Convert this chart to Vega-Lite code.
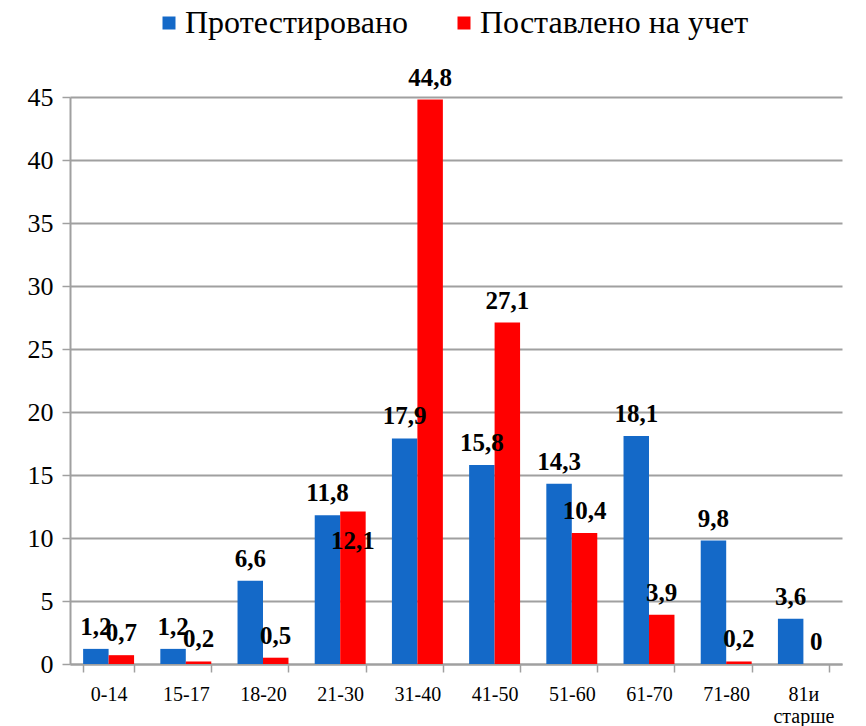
{
  "$schema": "https://vega.github.io/schema/vega-lite/v6.json",
  "width": 772,
  "height": 567,
  "autosize": {"type": "none"},
  "padding": {"left": 70, "top": 97, "right": 24, "bottom": 62},
  "background": "white",
  "config": {
    "locale": {"number": {"decimal": ",", "thousands": " ", "grouping": [3], "currency": ["", ""]}},
    "view": {"stroke": null},
    "font": "Times New Roman",
    "axis": {"labelFont": "Times New Roman"},
    "text": {"font": "Times New Roman"}
  },
  "data": {
    "values": [
      {"age": "0-14", "series": "Протестировано", "value": 1.2},
      {"age": "0-14", "series": "Поставлено на учет", "value": 0.7},
      {"age": "15-17", "series": "Протестировано", "value": 1.2},
      {"age": "15-17", "series": "Поставлено на учет", "value": 0.2},
      {"age": "18-20", "series": "Протестировано", "value": 6.6},
      {"age": "18-20", "series": "Поставлено на учет", "value": 0.5},
      {"age": "21-30", "series": "Протестировано", "value": 11.8},
      {"age": "21-30", "series": "Поставлено на учет", "value": 12.1},
      {"age": "31-40", "series": "Протестировано", "value": 17.9},
      {"age": "31-40", "series": "Поставлено на учет", "value": 44.8},
      {"age": "41-50", "series": "Протестировано", "value": 15.8},
      {"age": "41-50", "series": "Поставлено на учет", "value": 27.1},
      {"age": "51-60", "series": "Протестировано", "value": 14.3},
      {"age": "51-60", "series": "Поставлено на учет", "value": 10.4},
      {"age": "61-70", "series": "Протестировано", "value": 18.1},
      {"age": "61-70", "series": "Поставлено на учет", "value": 3.9},
      {"age": "71-80", "series": "Протестировано", "value": 9.8},
      {"age": "71-80", "series": "Поставлено на учет", "value": 0.2},
      {"age": "81и старше", "series": "Протестировано", "value": 3.6},
      {"age": "81и старше", "series": "Поставлено на учет", "value": 0}
    ]
  },
  "encoding": {
    "x": {
      "field": "age", "type": "nominal", "sort": null,
      "scale": {"paddingInner": 0.34, "paddingOuter": 0.17},
      "axis": {
        "title": null, "labelAngle": 0, "labelFontSize": 20, "labelColor": "black",
        "labelFont": "Times New Roman", "labelPadding": 12, "labelLineHeight": 22,
        "labelExpr": "datum.label == '81и старше' ? ['81и', 'старше'] : datum.label",
        "domainColor": "#a0a0a0", "domainWidth": 2, "tickColor": "#a0a0a0", "tickWidth": 1.5,
        "tickBand": "extent", "tickSize": 8
      }
    },
    "xOffset": {"field": "series", "type": "nominal", "sort": ["Протестировано", "Поставлено на учет"]},
    "y": {
      "field": "value", "type": "quantitative",
      "scale": {"domain": [0, 45], "nice": false},
      "axis": {
        "title": null, "values": [0, 5, 10, 15, 20, 25, 30, 35, 40, 45],
        "labelFontSize": 26, "labelColor": "black", "labelFont": "Times New Roman", "labelPadding": 9,
        "domainColor": "#a0a0a0", "domainWidth": 2, "tickColor": "#a0a0a0", "tickSize": 8, "tickWidth": 1.5,
        "gridColor": "#a0a0a0", "gridWidth": 2
      }
    }
  },
  "layer": [
    {
      "mark": {"type": "bar", "stroke": null},
      "encoding": {
        "color": {
          "field": "series", "type": "nominal",
          "sort": ["Протестировано", "Поставлено на учет"],
          "scale": {"domain": ["Протестировано", "Поставлено на учет"], "range": ["#1469c8", "#ff0000"]},
          "legend": {
            "title": null, "orient": "none", "direction": "horizontal",
            "legendX": 83, "legendY": -90,
            "symbolType": "square", "symbolSize": 169, "symbolStrokeWidth": 0,
            "labelFontSize": 32, "labelFont": "Times New Roman", "labelColor": "black",
            "columnPadding": 40, "labelOffset": 0, "labelLimit": 400
          }
        }
      }
    },
    {
      "transform": [{"filter": "!(datum.age == '21-30' && datum.series == 'Поставлено на учет')"}],
      "mark": {"type": "text", "baseline": "alphabetic", "dy": -14, "fontSize": 25, "fontWeight": "bold", "font": "Times New Roman", "color": "black"},
      "encoding": {
        "text": {"field": "value", "type": "quantitative", "format": ".1~f"}
      }
    },
    {
      "transform": [{"filter": "datum.age == '21-30' && datum.series == 'Поставлено на учет'"}],
      "mark": {"type": "text", "baseline": "middle", "dy": 29, "fontSize": 25, "fontWeight": "bold", "font": "Times New Roman", "color": "black"},
      "encoding": {
        "text": {"field": "value", "type": "quantitative", "format": ".1~f"}
      }
    }
  ]
}
